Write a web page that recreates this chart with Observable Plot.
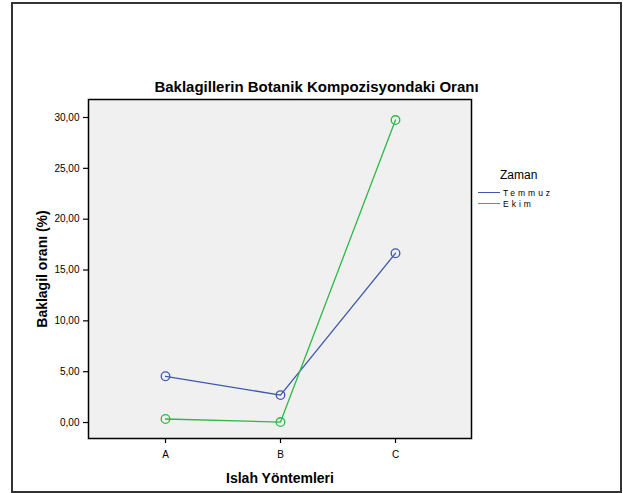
<!DOCTYPE html>
<html><head><meta charset="utf-8">
<script src="https://cdn.jsdelivr.net/npm/d3@7"></script>
<script src="https://cdn.jsdelivr.net/npm/@observablehq/plot@0.6"></script>
<style>
body{margin:0;background:#fff;font-family:"Liberation Sans",Arial,sans-serif;}
#wrap{position:relative;width:623px;height:493px;}
#border{position:absolute;left:11px;top:2px;width:607px;height:487px;border:2px solid #333;box-sizing:content-box;}
#title{position:absolute;left:12px;width:609px;top:78px;text-align:center;font-weight:bold;font-size:15px;color:#000;}
#legend{position:absolute;left:478px;top:168px;font-size:12px;color:#000;}
#legend .ttl{margin-left:22px;margin-bottom:5px;}
#legend .row{display:flex;align-items:center;height:11px;font-size:8.5px;letter-spacing:3px;}
#legend .sw{width:22px;height:1px;margin-right:3px;}
svg [aria-label="y-axis label"] text, svg [aria-label="x-axis label"] text{font-weight:bold;font-size:14px;}
</style></head>
<body><div id="wrap"><div id="border"></div><div id="title"></div><div id="legend"></div></div>
<script>
const title = "Baklagillerin Botanik Kompozisyondaki Oranı";
const xLabel = "Islah Yöntemleri";
const yLabel = "Baklagil oranı (%)";
const legendTitle = "Zaman";
const categories = ["A", "B", "C"];
const seriesNames = ["Temmuz", "Ekim"];
const seriesColors = ["#3E58AC", "#2EB848"];
const temmuz = [4.55, 2.7, 16.65];
const ekim = [0.35, 0.05, 29.75];
const yTicks = [0, 5, 10, 15, 20, 25, 30];

const data = [];
[temmuz, ekim].forEach((vals, i) => vals.forEach((v, j) => data.push({cat: categories[j], val: v, series: seriesNames[i]})));

document.getElementById("title").textContent = title;
const lg = document.getElementById("legend");
const t = document.createElement("div"); t.className = "ttl"; t.textContent = legendTitle; lg.appendChild(t);
seriesNames.forEach((s, i) => {
  const r = document.createElement("div"); r.className = "row";
  const sw = document.createElement("div"); sw.className = "sw"; sw.style.background = seriesColors[i];
  const tx = document.createElement("span"); tx.textContent = s;
  r.appendChild(sw); r.appendChild(tx); lg.appendChild(r);
});

const chart = Plot.plot({
  width: 623, height: 493,
  marginLeft: 88, marginRight: 152, marginTop: 99, marginBottom: 55,
  style: {background: "transparent", fontFamily: "'Liberation Sans', Arial, sans-serif", fontSize: "10px", color: "#000"},
  x: {type: "point", domain: categories, padding: 0.66},
  y: {domain: [-1.57, 31.77]},
  color: {domain: seriesNames, range: seriesColors},
  marks: [
    Plot.frame({fill: "#F0F0F0", stroke: "none"}),
    Plot.axisX({label: xLabel, labelAnchor: "center", labelOffset: 44, labelArrow: "none", tickSize: 5, tickPadding: 7, stroke: "#000", strokeWidth: 1.2}),
    Plot.axisY({ticks: yTicks, tickFormat: d => d.toFixed(2).replace(".", ","), label: yLabel, labelAnchor: "center", labelOffset: 51, labelArrow: "none", tickSize: 5, tickPadding: 4, stroke: "#000", strokeWidth: 1.2}),
    Plot.line(data, {x: "cat", y: "val", z: "series", stroke: "series", strokeWidth: 1.3}),
    Plot.dot(data, {x: "cat", y: "val", stroke: "series", r: 4.3, strokeWidth: 1.3}),
    Plot.frame({stroke: "#000", strokeWidth: 1.5})
  ]
});
document.getElementById("wrap").appendChild(chart);
chart.style.position = "absolute"; chart.style.left = "0"; chart.style.top = "0";
</script>
</body></html>
